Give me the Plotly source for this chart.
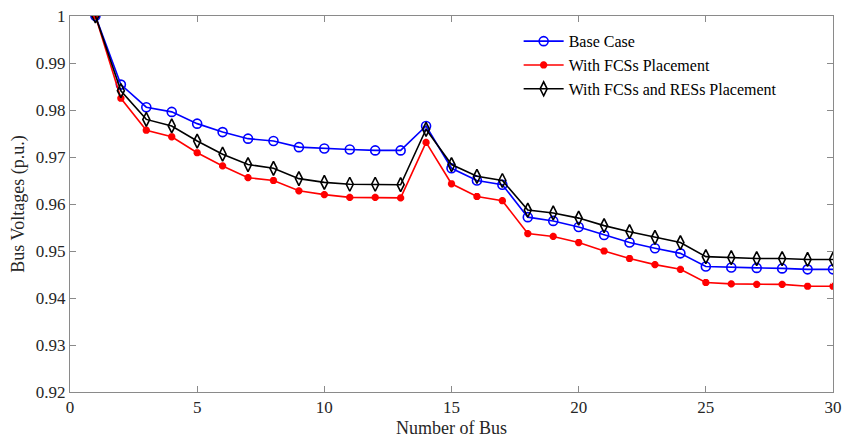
import plotly.graph_objects as go

bus = list(range(1, 31))
base_case = [1.0, 0.9854, 0.9806, 0.9796, 0.9771, 0.9753, 0.9739, 0.9734, 0.9721, 0.9718,
             0.9716, 0.9714, 0.9714, 0.9766, 0.9676, 0.9650, 0.9641, 0.9572, 0.9564, 0.9551,
             0.9534, 0.9518, 0.9506, 0.9495, 0.9467, 0.9465, 0.9464, 0.9463, 0.9461, 0.9461]
fcs = [1.0, 0.9825, 0.9757, 0.9743, 0.9709, 0.9681, 0.9656, 0.9650, 0.9628, 0.9620,
       0.9614, 0.9614, 0.9613, 0.9731, 0.9643, 0.9616, 0.9607, 0.9537, 0.9531, 0.9518,
       0.9500, 0.9484, 0.9471, 0.9461, 0.9433, 0.9430, 0.9429, 0.9429, 0.9425, 0.9425]
fcs_res = [1.0, 0.9841, 0.9780, 0.9766, 0.9734, 0.9706, 0.9684, 0.9676, 0.9654, 0.9646,
           0.9642, 0.9642, 0.9641, 0.9759, 0.9684, 0.9659, 0.9650, 0.9587, 0.9581, 0.9570,
           0.9554, 0.9541, 0.9529, 0.9518, 0.9488, 0.9486, 0.9484, 0.9484, 0.9482, 0.9482]

x_ticks = [0, 5, 10, 15, 20, 25, 30]
y_ticks = [0.92, 0.93, 0.94, 0.95, 0.96, 0.97, 0.98, 0.99, 1.0]
y_tick_text = ["0.92", "0.93", "0.94", "0.95", "0.96", "0.97", "0.98", "0.99", "1"]

FONT = "Liberation Serif, Times New Roman, serif"
TXT = "#262626"

fig = go.Figure()
fig.add_trace(go.Scatter(x=bus, y=base_case, mode="lines+markers", name="Base Case",
                         line=dict(color="#0000ff", width=1.6),
                         marker=dict(symbol="circle-open", size=9, color="#0000ff",
                                     line=dict(width=1.6, color="#0000ff"))))
fig.add_trace(go.Scatter(x=bus, y=fcs, mode="lines+markers", name="With FCSs Placement",
                         line=dict(color="#ff0000", width=1.6),
                         marker=dict(symbol="asterisk-open", size=6, color="#ff0000",
                                     line=dict(width=2.5, color="#ff0000"))))
fig.add_trace(go.Scatter(x=bus, y=fcs_res, mode="lines+markers", name="With FCSs and RESs Placement",
                         line=dict(color="#000000", width=1.6),
                         marker=dict(symbol="diamond-tall-open", size=10, color="#000000",
                                     line=dict(width=1.6, color="#000000"))))

axis_common = dict(showline=True, linecolor="#8a8a8a", linewidth=1, mirror="ticks",
                   ticks="inside", ticklen=6, tickcolor="#8a8a8a", showgrid=False,
                   zeroline=False, automargin=False,
                   tickfont=dict(family=FONT, size=17, color=TXT))

fig.update_xaxes(range=[0, 30], tickvals=x_ticks,
                 title=dict(text="Number of Bus", font=dict(family=FONT, size=18, color=TXT),
                            standoff=4),
                 **axis_common)
fig.update_yaxes(range=[0.92, 1.0], tickvals=y_ticks, ticktext=y_tick_text,
                 title=dict(text="Bus Voltages (p.u.)", font=dict(family=FONT, size=18, color=TXT),
                            standoff=6),
                 **axis_common)

fig.update_layout(
    width=843, height=440,
    margin=dict(l=70, r=10, t=16, b=48),
    plot_bgcolor="white", paper_bgcolor="white",
    font=dict(family=FONT, size=17, color=TXT),
    legend=dict(x=0.588, y=0.978, xanchor="left", yanchor="top",
                bgcolor="rgba(255,255,255,0)", borderwidth=0,
                font=dict(family=FONT, size=16, color="#000000"),
                tracegroupgap=0, itemwidth=40),
)

fig.write_html("out.html")
